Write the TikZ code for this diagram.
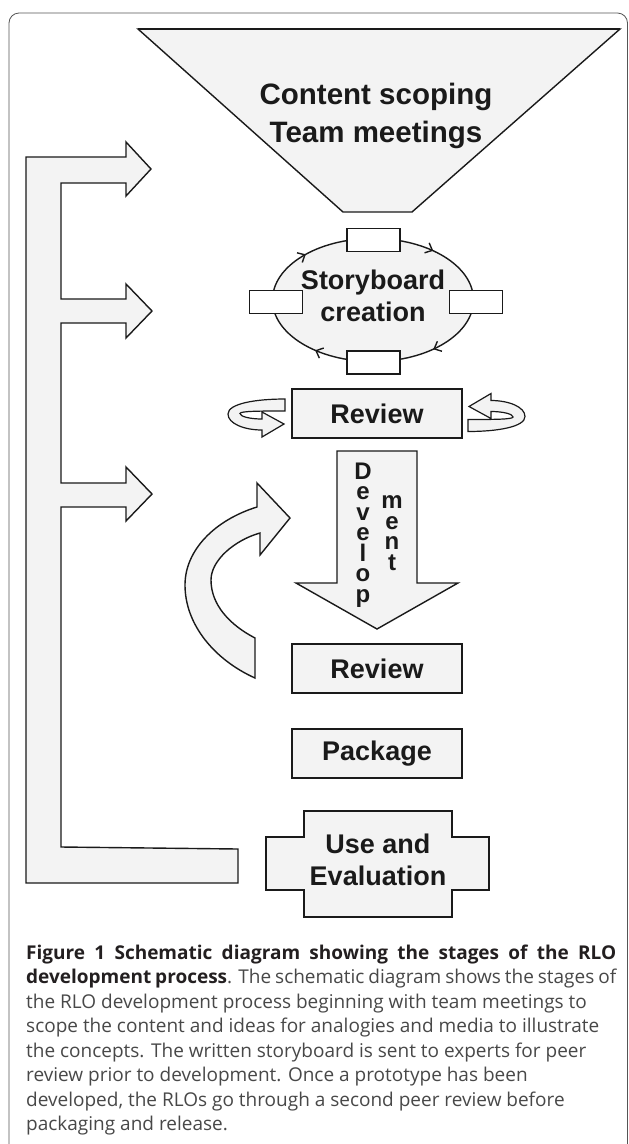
\documentclass[tikz,border=0pt]{standalone}
\usepackage{fontspec}
\setmainfont{Liberation Sans}
\newfontfamily\capfont{Open Sans}
\usetikzlibrary{arrows.meta,decorations.markings}
\definecolor{shapefill}{HTML}{F3F3F3}
\definecolor{ink}{HTML}{1A1A1A}
\definecolor{captxt}{HTML}{484848}
\definecolor{capbold}{HTML}{231F20}
\definecolor{framecol}{HTML}{555555}
\tikzset{
  piece/.style={draw=ink, line width=1.4pt, fill=shapefill, line join=miter},
  stagebox/.style={piece, minimum width=170pt, minimum height=49pt, inner sep=0pt,
    font=\fontsize{27}{32}\selectfont\bfseries, text=ink},
  slot/.style={draw=ink, line width=1.4pt, fill=white, minimum width=53pt,
    minimum height=23pt, inner sep=0pt},
  bigtext/.style={font=\fontsize{27}{32}\selectfont\bfseries, text=ink, align=center, inner sep=0pt},
  stacktext/.style={font=\fontsize{24}{20.5}\selectfont\bfseries, text=ink, align=center, inner sep=0pt},
  capline/.style={anchor=base west, inner sep=0pt, font=\capfont\fontsize{19}{24}\selectfont, text=captxt},
  spin/.pic={
    \draw[piece, line width=1.2pt] (29,18.5) .. controls (0,18.5) and (-28,14) .. (-28,3.5)
      .. controls (-28,-6) and (-12,-12.5) .. (6,-12.5) -- (6,-19.5) -- (28,-6.5) -- (6,5.5)
      -- (6,-1.5) .. controls (-6,-1.5) and (-16,1) .. (-16,4)
      .. controls (-16,6.5) and (5,6.5) .. (29,6.5) -- cycle;
  },
}
\begin{document}
\begin{tikzpicture}[x=1pt,y=1pt]
\useasboundingbox (0,0) rectangle (629,-1144);
\fill[white] (0,0) rectangle (629,-1144);

% outer frame
\draw[framecol, line width=0.8pt, rounded corners=10pt] (9,-1170) -- (9,-13) -- (627.5,-13) -- (627.5,-1170);

% funnel: content scoping
\draw[piece] (138,-29) -- (620,-29) -- (412,-212) -- (343,-212) -- cycle;
\draw[ink, line width=2.4pt] (138,-29) -- (620,-29);
\node[font=\fontsize{29.5}{38}\selectfont\bfseries, text=ink, align=center, inner sep=0pt] (scope) at (376,-116) {Content scoping\\Team meetings};

% storyboard cycle
\draw[piece, postaction={decorate}, decoration={markings,
    mark=at position 0.13 with {\arrowreversed{Straight Barb[length=6pt,width=11pt]}},
    mark=at position 0.385 with {\arrowreversed{Straight Barb[length=6pt,width=11pt]}},
    mark=at position 0.635 with {\arrowreversed{Straight Barb[length=6pt,width=11pt]}},
    mark=at position 0.87 with {\arrowreversed{Straight Barb[length=6pt,width=11pt]}}}]
  (373,-300) ellipse [x radius=100.5pt, y radius=61.5pt];
\node[slot] (slotN) at (373.5,-240) {};
\node[slot] (slotS) at (373.5,-362.5) {};
\node[slot] (slotW) at (276,-302) {};
\node[slot] (slotE) at (476,-302) {};
\node[bigtext] (story) at (373,-296) {Storyboard\\creation};

% first review with its loops
\node[stagebox] (review1) at (377,-413.5) {Review};
\pic (loopL) at (256,-417.5) {spin};
\pic[rotate=180] (loopR) at (497,-413) {spin};

% development arrow
\draw[piece] (337,-451) -- (417,-451) -- (417,-583) -- (458,-583) -- (377,-629)
  -- (296,-583) -- (337,-583) -- cycle;
\node[stacktext] (dev) at (363,-535) {D\\e\\v\\e\\l\\o\\p};
\node[stacktext] (ment) at (392,-533) {m\\e\\n\\t};

% curved return arrow
\draw[piece] (257,-507) .. controls (215,-520) and (185,-550) .. (185,-585)
  .. controls (185,-625) and (215,-660) .. (255,-678) -- (255,-638)
  .. controls (230,-625) and (211,-605) .. (211,-580)
  .. controls (211,-560) and (235,-540) .. (260,-533) -- (260,-555) -- (290,-518)
  -- (257,-483) -- cycle;

% later stages
\node[stagebox] (review2) at (377,-668.5) {Review};
\node[stagebox] (package) at (377,-753.5) {Package};
\draw[piece] (304,-811) -- (452,-811) -- (452,-837) -- (489,-837) -- (489,-890)
  -- (452,-890) -- (452,-917) -- (304,-917) -- (304,-890) -- (266,-890)
  -- (266,-837) -- (304,-837) -- cycle;
\node[bigtext] (use) at (378,-860) {Use and\\Evaluation};

% feedback arrow on the left
\draw[piece] (26,-157) -- (126,-157) -- (126,-142) -- (151,-169) -- (126,-196) -- (126,-183)
  -- (61,-183) -- (61,-299) -- (126,-299) -- (126,-284) -- (152,-311) -- (126,-338)
  -- (126,-323) -- (61,-323) -- (61,-483) -- (126,-483) -- (126,-467) -- (152,-494)
  -- (126,-521) -- (126,-507) -- (61,-507) -- (61,-847) -- (238,-849) -- (238,-883)
  -- (26,-883) -- cycle;

% caption: the first two lines are set full measure
\node[capline] (cap1) at (26,-959) {\makebox[590pt][s]{\bfseries\color{capbold}Figure 1 Schematic diagram showing the stages of the RLO}};
\node[capline] (cap2) at (26,-983.5) {\makebox[590pt][s]{{\bfseries\color{capbold}development process}. The schematic diagram shows the stages of}};
\node[capline] (cap3) at (26,-1008) {the RLO development process beginning with team meetings to};
\node[capline] (cap4) at (26,-1032.5) {scope the content and ideas for analogies and media to illustrate};
\node[capline] (cap5) at (26,-1057) {the concepts. The written storyboard is sent to experts for peer};
\node[capline] (cap6) at (26,-1081.5) {review prior to development. Once a prototype has been};
\node[capline] (cap7) at (26,-1106) {developed, the RLOs go through a second peer review before};
\node[capline] (cap8) at (26,-1130.5) {packaging and release.};
\end{tikzpicture}
\end{document}
